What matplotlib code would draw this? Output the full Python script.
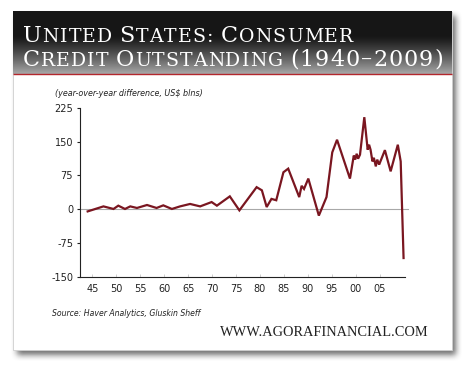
import numpy as np
import matplotlib
matplotlib.use("Agg")
import matplotlib.pyplot as plt
from matplotlib.patches import Rectangle

# ---------------- data ----------------
years = [1944.0, 1947.3, 1949.4, 1950.4, 1951.8, 1952.9, 1954.3, 1956.4, 1958.4,
         1959.8, 1961.6, 1963.3, 1965.4, 1967.5, 1969.9, 1971.0, 1973.7, 1975.7,
         1979.3, 1980.4, 1981.4, 1982.4, 1983.4, 1984.9, 1985.9, 1988.2, 1988.7,
         1989.2, 1990.1, 1992.3, 1993.9, 1995.1, 1996.1, 1998.8, 1999.6, 1999.9,
         2000.2, 2000.5, 2000.9, 2001.8, 2002.5, 2002.8, 2003.1, 2003.5, 2003.8,
         2004.2, 2004.5, 2004.9, 2006.1, 2007.3, 2008.8, 2009.4, 2010.0]
values = [-4.7, 6.4, 0.7, 8.0, 0.7, 6.4, 2.9, 9.5, 2.9,
          8.7, 0.7, 6.4, 11.8, 6.4, 16.0, 8.0, 28.6, -2.4,
          49.0, 42.0, 5.0, 23.0, 20.0, 82.0, 90.0, 27.0, 52.0,
          45.0, 68.0, -14.0, 27.0, 126.0, 154.0, 68.0, 119.0, 110.0,
          123.0, 112.0, 121.0, 204.0, 132.0, 143.0, 132.0, 106.0, 114.0,
          95.0, 110.0, 99.0, 131.0, 84.0, 143.0, 106.0, -108.0]
x_ticks = [1945, 1950, 1955, 1960, 1965, 1970, 1975, 1980, 1985, 1990, 1995, 2000, 2005]
x_tick_labels = ["45", "50", "55", "60", "65", "70", "75", "80", "85", "90", "95", "00", "05"]
y_ticks = [-150, -75, 0, 75, 150, 225]
y_tick_labels = ["-150", "-75", "0", "75", "150", "225"]

title_line1 = [("U", "B"), ("NITED", "S"), (" ", "B"), ("S", "B"), ("TATES:", "S"), (" ", "B"),
               ("C", "B"), ("ONSUMER", "S")]
title_line2 = [("C", "B"), ("REDIT", "S"), (" ", "B"), ("O", "B"), ("UTSTANDING", "S"), (" ", "B"),
               ("(1940–2009)", "B")]
y_label = "(year-over-year difference, US$ blns)"
source = "Source: Haver Analytics, Gluskin Sheff"
site = "WWW.AGORAFINANCIAL.COM"

W, H = 470, 368
fig = plt.figure(figsize=(W / 100, H / 100), dpi=100)
fig.patch.set_facecolor("white")

bg = fig.add_axes([0, 0, 1, 1])
bg.set_xlim(0, W)
bg.set_ylim(H, 0)
bg.axis("off")

# panel geometry (pixels)
PL, PR, PT, PB = 12.7, 451.5, 11.7, 350.0

# shadow (blurred)
yy, xx = np.mgrid[0:H, 0:W]
mask = ((xx >= PL + 4) & (xx <= PR + 4) & (yy >= PT + 4) & (yy <= PB + 4)).astype(float)
k = np.ones(7) / 7.0
for _ in range(2):
    mask = np.apply_along_axis(lambda r: np.convolve(r, k, mode="same"), 1, mask)
    mask = np.apply_along_axis(lambda c: np.convolve(c, k, mode="same"), 0, mask)
shadow = np.zeros((H, W, 4))
shadow[..., :3] = 0.25
shadow[..., 3] = mask * 0.75
bg.imshow(shadow, extent=(0, W, H, 0), aspect="auto", zorder=0, interpolation="bilinear")

bg.add_patch(Rectangle((PL, PT), PR - PL, PB - PT, facecolor="white",
                       edgecolor="#cfcfcf", lw=0.6, zorder=1))

# header gradient
HB = 74.0
n = 200
t = np.linspace(0, 1, n)
top_c = np.array([0.09, 0.09, 0.09])
bot_c = np.array([0.66, 0.66, 0.66])
frac = np.clip((t - 0.40) / 0.60, 0, 1) ** 1.2
grad = top_c[None, :] * (1 - frac[:, None]) + bot_c[None, :] * frac[:, None]
bg.imshow(grad[:, None, :], extent=(PL, PR, HB, PT), aspect="auto", zorder=2,
          interpolation="bilinear")
bg.plot([PL, PR], [HB, HB], color="#b3262c", lw=1.0, zorder=3, solid_capstyle="butt")

# title in small caps with letter tracking
fig.canvas.draw()
renderer = fig.canvas.get_renderer()
serif = "DejaVu Serif"
B, S = 16.0, 13.6


def draw_pieces(pieces, x0, yb, track, draw=True):
    x = x0
    objs = []
    for s, kind in pieces:
        fs = B if kind == "B" else S
        if s == " ":
            x += fs * 1.389 * 0.28
            continue
        for ch in s:
            tt = bg.text(x, yb, ch, fontsize=fs, family=serif, color="white",
                         ha="left", va="baseline", zorder=4)
            w = tt.get_window_extent(renderer).width
            x += w + track
            objs.append(tt)
    if not draw:
        for o in objs:
            o.remove()
    return x - track


x_plain = draw_pieces(title_line2, 22.7, 65, 0.0, draw=False)
nchars = sum(len(s) for s, kd in title_line2 if s != " ")
track = (443 - x_plain) / max(nchars - 1, 1)
draw_pieces(title_line1, 22.7, 42.5, track)
draw_pieces(title_line2, 22.7, 65.5, track)

# main chart axes
x_left, x_right, y_top, y_bot = 80, 405, 107.7, 277
ax = fig.add_axes([x_left / W, 1 - y_bot / H, (x_right - x_left) / W, (y_bot - y_top) / H])
ax.set_facecolor("none")
ax.set_xlim(1942.4, 2010.3)
ax.set_ylim(-150, 225)
ax.axhline(0, color="#a8a8a8", lw=0.8, xmax=1.01, clip_on=False, zorder=1)
ax.plot(years, values, color="#7a1620", lw=1.6, zorder=3, solid_joinstyle="miter")

for side in ["top", "right"]:
    ax.spines[side].set_visible(False)
for side in ["left", "bottom"]:
    ax.spines[side].set_color("#222222")
    ax.spines[side].set_linewidth(0.8)

ax.set_xticks(x_ticks)
ax.set_xticklabels(x_tick_labels)
ax.set_yticks(y_ticks)
ax.set_yticklabels(y_tick_labels)
ax.tick_params(axis="x", direction="in", length=2.5, width=0.5, color="#bbbbbb",
               labelsize=7, labelcolor="#222222", pad=5)
ax.tick_params(axis="y", direction="out", length=2.5, width=0.8, color="#222222",
               labelsize=7, labelcolor="#222222", pad=2.5)

# texts
bg.text(55, 94, y_label, fontsize=5.8, style="italic", color="#222222",
        ha="left", va="center", zorder=4)
bg.text(51.5, 314, source, fontsize=5.6, style="italic", color="#222222",
        ha="left", va="center", zorder=4)
bg.text(429, 332.5, site, fontsize=10.4, family="Liberation Serif", color="#222222",
        ha="right", va="center", zorder=4)

fig.savefig("out.png", dpi=100, facecolor="white")
